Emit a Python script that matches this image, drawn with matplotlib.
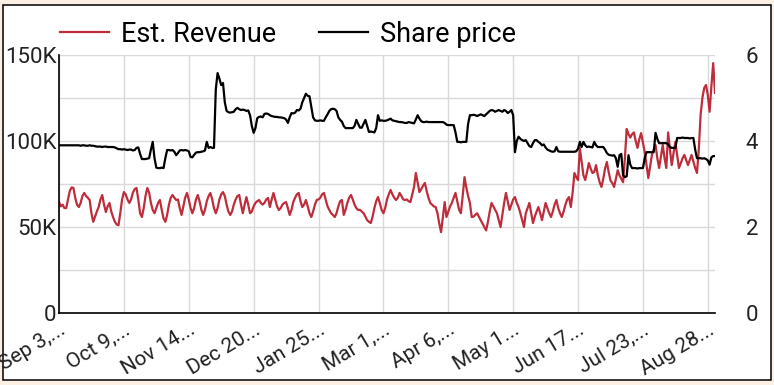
import matplotlib.pyplot as plt
import pandas as pd
from matplotlib.patches import Rectangle

plt.rcParams['font.family'] = ['Roboto', 'DejaVu Sans']

# daily values, first day 2023-09-03
start_date = "2023-09-03"

# Est. Revenue, in thousands
revenue_k = [
    64.5, 62, 63, 61, 61, 66, 71, 73, 72.7, 67,
    63, 61.6, 64, 68, 69.8, 68, 67, 65.7, 58, 53,
    56, 59, 61.6, 66, 68.6, 63, 58.7, 62, 64, 59,
    55.8, 53, 51.5, 51, 58, 66, 70.3, 69, 66, 64,
    66, 70, 72, 72.7, 66, 58, 55.8, 61, 68, 72.7,
    70, 64, 59.9, 58, 61, 64, 65.7, 60, 55, 53,
    57, 63, 67, 68.6, 67, 65.7, 66, 61, 57, 62,
    67, 69.8, 66, 61, 58, 61, 66, 68.6, 65, 60,
    57, 60, 65, 68, 69.8, 66, 61, 58, 61, 66,
    69, 70.3, 68, 63, 59, 57, 59, 63, 66, 68,
    68.6, 63, 58, 63, 67.4, 63, 58, 59, 62, 64,
    65, 65.7, 64, 63, 64, 66, 66.9, 61.6, 66, 69.8,
    66, 62, 59.9, 61, 63, 64, 64.5, 61, 57, 60,
    64.5, 67, 69, 69.8, 65, 61.6, 63, 65.7, 62, 58,
    55.8, 59, 63, 65.7, 66, 67, 69, 69.8, 66, 62,
    59.9, 58, 57, 55.8, 58, 62, 65, 65.7, 57, 60,
    64, 67, 68.6, 66, 63, 61, 59.9, 60, 59, 58,
    56, 54, 53, 52.3, 56, 61, 65, 67.4, 64, 60,
    58, 61, 66, 69, 71.5, 69, 67, 65.7, 67, 69.8,
    68, 66, 65.7, 66, 65, 64.5, 69, 73.3, 81.4, 76,
    70.3, 72, 74, 75.6, 71, 67, 64, 63, 62, 61.6,
    58, 52, 47, 56, 64.5, 55.8, 59, 62, 64, 67,
    69.8, 65, 60, 58, 68, 79, 73, 68, 64, 55.8,
    56, 57, 58, 56, 54, 52, 50, 48, 53, 59,
    64, 62, 60, 58, 54, 50, 57, 64, 69.8, 65,
    59.9, 63, 66, 67.4, 64, 61.6, 58, 54, 50, 58,
    61, 64, 58, 52.3, 56, 59, 61.6, 58, 54, 59,
    64, 61, 58, 55.8, 59, 63, 65.7, 61, 58, 55.8,
    59, 63, 66, 67.4, 61.6, 70, 81.4, 79, 77.3, 95.9,
    88, 80, 77.3, 82, 87.2, 84, 81.4, 82, 86, 80,
    76, 73.3, 78, 84, 87.8, 82, 77, 75.6, 73.3, 78,
    83, 80, 78, 76, 90, 107, 104, 102, 104, 105,
    100, 96, 101, 104.6, 99, 93.6, 86, 78.5, 85, 91.9,
    95, 97.7, 90, 84.3, 91, 97.7, 90, 84.3, 105, 95,
    86, 93, 99.4, 92, 84.3, 87, 90, 91.9, 89, 86,
    89, 91.9, 88, 84.3, 81.4, 95, 115, 125, 130.8, 132.6,
    126.7, 117, 132, 145.3, 128,
]

share_price = [
    3.90, 3.90, 3.90, 3.90, 3.90, 3.90, 3.90, 3.90, 3.90, 3.90,
    3.90, 3.90, 3.89, 3.90, 3.90, 3.89, 3.89, 3.90, 3.89, 3.89,
    3.88, 3.87, 3.87, 3.87, 3.86, 3.87, 3.87, 3.86, 3.86, 3.86,
    3.86, 3.85, 3.83, 3.81, 3.81, 3.80, 3.81, 3.80, 3.79, 3.80,
    3.80, 3.78, 3.79, 3.84, 3.85, 3.70, 3.58, 3.58, 3.58, 3.59,
    3.60, 3.80, 3.98, 3.60, 3.38, 3.37, 3.37, 3.38, 3.37, 3.60,
    3.79, 3.79, 3.78, 3.79, 3.75, 3.67, 3.72, 3.78, 3.79, 3.78,
    3.79, 3.78, 3.76, 3.63, 3.62, 3.68, 3.73, 3.74, 3.74, 3.75,
    3.76, 3.78, 3.98, 3.84, 3.86, 3.84, 3.84, 5.20, 5.58, 5.45,
    5.30, 5.35, 4.90, 4.70, 4.67, 4.66, 4.67, 4.68, 4.74, 4.77,
    4.74, 4.72, 4.73, 4.72, 4.70, 4.71, 4.60, 4.35, 4.19, 4.30,
    4.53, 4.56, 4.57, 4.55, 4.63, 4.64, 4.63, 4.60, 4.58, 4.57,
    4.56, 4.56, 4.55, 4.55, 4.54, 4.53, 4.50, 4.42, 4.55, 4.65,
    4.64, 4.66, 4.72, 4.71, 4.75, 4.90, 5.00, 5.10, 5.05, 5.04,
    4.79, 4.55, 4.48, 4.47, 4.47, 4.48, 4.47, 4.47, 4.55, 4.62,
    4.70, 4.74, 4.75, 4.74, 4.70, 4.55, 4.49, 4.45, 4.35, 4.30,
    4.30, 4.30, 4.30, 4.30, 4.35, 4.49, 4.40, 4.31, 4.31, 4.40,
    4.49, 4.35, 4.21, 4.22, 4.21, 4.20, 4.30, 4.60, 4.47, 4.48,
    4.47, 4.47, 4.48, 4.50, 4.52, 4.48, 4.47, 4.46, 4.45, 4.44,
    4.44, 4.43, 4.42, 4.42, 4.44, 4.43, 4.42, 4.41, 4.50, 4.60,
    4.52, 4.46, 4.44, 4.44, 4.45, 4.44, 4.44, 4.44, 4.44, 4.44,
    4.44, 4.44, 4.44, 4.44, 4.42, 4.38, 4.37, 4.37, 4.37, 4.37,
    4.20, 3.98, 3.98, 3.97, 3.98, 3.98, 3.98, 4.40, 4.60, 4.60,
    4.61, 4.60, 4.58, 4.60, 4.62, 4.60, 4.58, 4.62, 4.66, 4.70,
    4.72, 4.71, 4.68, 4.70, 4.72, 4.70, 4.68, 4.72, 4.70, 4.65,
    4.68, 4.72, 4.60, 3.74, 4.00, 4.10, 4.05, 4.02, 4.00, 4.02,
    3.95, 3.88, 3.86, 3.95, 4.02, 4.02, 3.98, 3.95, 3.90, 3.92,
    3.85, 3.80, 3.78, 3.76, 3.75, 3.76, 3.86, 3.76, 3.75, 3.75,
    3.75, 3.75, 3.75, 3.75, 3.75, 3.75, 3.75, 3.76, 3.82, 3.98,
    3.86, 3.98, 3.90, 3.86, 3.87, 3.86, 3.85, 3.98, 3.90, 3.86,
    3.86, 3.86, 3.86, 3.80, 3.72, 3.68, 3.67, 3.66, 3.67, 3.60,
    3.40, 3.67, 3.70, 3.20, 3.16, 3.18, 3.67, 3.45, 3.37, 3.37,
    3.37, 3.36, 3.37, 3.37, 3.37, 3.60, 3.74, 3.74, 3.74, 3.74,
    3.74, 4.19, 4.05, 3.95, 3.95, 3.95, 3.95, 3.95, 3.92, 3.86,
    3.84, 3.84, 3.84, 4.07, 4.07, 4.07, 4.08, 4.07, 4.07, 4.07,
    4.06, 4.07, 4.07, 3.80, 3.60, 3.60, 3.60, 3.59, 3.60, 3.58,
    3.55, 3.45, 3.62, 3.65, 3.65,
]

x_labels = ["Sep 3,...", "Oct 9,...", "Nov 14...", "Dec 20...", "Jan 25...",
            "Mar 1,...", "Apr 6,...", "May 1...", "Jun 17...", "Jul 23,...",
            "Aug 28..."]
rev_ticks = [0, 25, 50, 75, 100, 125, 150]
rev_tick_labels = ["0", "", "50K", "", "100K", "", "150K"]
price_ticks = [0, 1, 2, 3, 4, 5, 6]
price_tick_labels = ["0", "", "2", "", "4", "", "6"]

dates = pd.date_range(start_date, periods=len(revenue_k), freq="D")
red = "#be2d3b"

fig = plt.figure(figsize=(7.74, 3.85), dpi=100, facecolor="#fcefe3")
fig.patches.append(Rectangle((3 / 774, 5 / 385), 768 / 774, 375 / 385,
                             transform=fig.transFigure, facecolor="white",
                             edgecolor="black", lw=1.1, zorder=-1))

ax = fig.add_axes([59 / 774, 72 / 385, 656 / 774, 258 / 385])
l1, = ax.plot(dates, revenue_k, color=red, lw=1.6, label="Est. Revenue")
ax.set_ylim(0, 150)
ax.set_xlim(dates[0], dates[-1])
ax.set_yticks(rev_ticks)
ax.set_yticklabels(rev_tick_labels)
ax.set_xticks(dates[::36][:len(x_labels)])
ax.set_xticklabels(x_labels, rotation=31, ha="right", rotation_mode="anchor")
ax.grid(True, color="#d9d9d9", lw=1)
ax.set_axisbelow(True)
ax.tick_params(axis="y", length=0, pad=2, labelsize=16, labelcolor="#222222")
ax.tick_params(axis="x", length=0, pad=5, labelsize=15, labelcolor="#222222")
for s in ["top", "right"]:
    ax.spines[s].set_visible(False)
for s in ["left", "bottom"]:
    ax.spines[s].set_color("black")
    ax.spines[s].set_linewidth(1.2)

ax2 = ax.twinx()
l2, = ax2.plot(dates, share_price, color="black", lw=1.6, label="Share price")
ax2.set_ylim(0, 6)
ax2.set_yticks(price_ticks)
ax2.set_yticklabels(price_tick_labels)
ax2.tick_params(axis="y", length=0, pad=22, labelsize=16, labelcolor="#222222")
for s in ax2.spines.values():
    s.set_visible(False)

fig.legend([l1, l2], ["Est. Revenue", "Share price"], loc="center left",
           bbox_to_anchor=(60 / 774, 1 - 34 / 385), ncol=2, frameon=False,
           fontsize=19.5, handlelength=1.8, handletextpad=0.45,
           columnspacing=1.6, borderpad=0, borderaxespad=0)

fig.savefig("out.png", dpi=100, facecolor=fig.get_facecolor())
